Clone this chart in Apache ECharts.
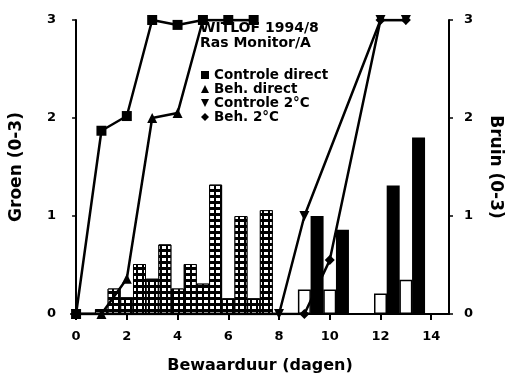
<!DOCTYPE html>
<html>
<head>
<meta charset="utf-8">
<script src="https://cdn.jsdelivr.net/npm/echarts@6/dist/echarts.min.js"></script>
<style>
  html, body { margin: 0; padding: 0; background: #fff; }
  #chart { width: 512px; height: 379px; }
</style>
</head>
<body>
<div id="chart"></div>
<script>
// Groen (lijnen), x = dag, y = score 0-3
const controleDirect = [[0, 0], [1, 1.87], [2, 2.02], [3, 3], [4, 2.95], [5, 3], [6, 3], [7, 3]];
const behDirect = [[0, 0], [1, 0], [2, 0.36], [3, 2.0], [4, 2.05], [5, 3], [6, 3], [7, 3]];
const controle2C = [[0, 0], [8, 0], [9, 1.0], [12, 3], [13, 3]];
const beh2C = [[0, 0], [9, 0], [10, 0.55], [12, 3], [13, 3]];

// Bruin (staven)
const dagenDirectA = [1, 2, 3, 4, 5, 6, 7];
const bruinDirectA = [0.05, 0.17, 0.36, 0.26, 0.31, 0.16, 0.16];
const dagenDirectB = [1.5, 2.5, 3.5, 4.5, 5.5, 6.5, 7.5];
const bruinDirectB = [0.26, 0.51, 0.71, 0.51, 1.32, 1.0, 1.06];
const dagen2CA = [9, 10, 12, 13];
const bruin2CA = [0.25, 0.25, 0.21, 0.35];
const dagen2CB = [9.5, 10.5, 12.5, 13.5];
const bruin2CB = [1.0, 0.86, 1.31, 1.8];

const xTicks = [0, 2, 4, 6, 8, 10, 12, 14];
const legendNames = ['Controle direct', 'Beh. direct', 'Controle 2°C', 'Beh. 2°C'];

const FONT = 'DejaVu Sans';
const downTri = 'path://M0,0 L10,0 L5,10 Z';

const pairs = (xs, ys) => xs.map((x, i) => [x, ys[i]]);

const chart = echarts.init(document.getElementById('chart'));

const lineSeries = (name, data, symbol) => ({
  name,
  type: 'line',
  data,
  symbol,
  symbolSize: 10,
  showAllSymbol: true,
  z: 5,
  lineStyle: { color: '#000', width: 2.5 },
  itemStyle: { color: '#000' },
  animation: false,
});

const barSeries = (data, itemStyle) => ({
  type: 'bar',
  yAxisIndex: 1,
  data,
  barWidth: 13,
  barGap: '-100%',
  z: 2,
  itemStyle,
  animation: false,
});

const hatched = {
  color: '#000',
  borderColor: '#000',
  borderWidth: 1,
  decal: {
    symbol: 'rect',
    symbolSize: 1,
    color: '#fff',
    dashArrayX: [4, 2],
    dashArrayY: [3, 3],
  },
};

const label = { fontFamily: FONT, fontWeight: 'bold', fontSize: 13, color: '#000' };

const option = {
  animation: false,
  title: {
    text: 'WITLOF 1994/8\nRas Monitor/A',
    left: 200,
    top: 21,
    padding: 0,
    textStyle: { fontFamily: FONT, fontWeight: 'bold', fontSize: 14, lineHeight: 15, color: '#000' },
  },
  legend: {
    orient: 'vertical',
    left: 201,
    top: 68,
    padding: 0,
    itemWidth: 8,
    itemHeight: 8,
    itemGap: 0,
    textStyle: { fontFamily: FONT, fontWeight: 'bold', fontSize: 13.5, color: '#000', lineHeight: 14 },
    data: [
      { name: legendNames[0], icon: 'rect' },
      { name: legendNames[1], icon: 'triangle' },
      { name: legendNames[2], icon: downTri },
      { name: legendNames[3], icon: 'diamond' },
    ],
  },
  grid: { left: 70, right: 60, top: 20, bottom: 63 },
  xAxis: {
    type: 'value',
    min: -0.2,
    max: 14.7,
    name: 'Bewaarduur (dagen)',
    nameLocation: 'center',
    nameGap: 44,
    nameTextStyle: { fontFamily: FONT, fontWeight: 'bold', fontSize: 16, color: '#000' },
    splitLine: { show: false },
    axisLine: { lineStyle: { color: '#000', width: 2 } },
    axisTick: { customValues: xTicks, length: 6, lineStyle: { color: '#000', width: 2 } },
    axisLabel: { customValues: xTicks, margin: 16, ...label },
  },
  yAxis: [
    {
      type: 'value',
      min: 0,
      max: 3,
      interval: 1,
      name: 'Groen (0-3)',
      nameLocation: 'center',
      nameGap: 46,
      nameTextStyle: { fontFamily: FONT, fontWeight: 'bold', fontSize: 17, color: '#000' },
      splitLine: { show: false },
      axisLine: { show: true, lineStyle: { color: '#000', width: 2 } },
      axisTick: { show: true, length: 4, lineStyle: { color: '#000', width: 1.5 } },
      axisLabel: { margin: 15, ...label },
    },
    {
      type: 'value',
      position: 'right',
      min: 0,
      max: 3,
      interval: 1,
      name: 'Bruin (0-3)',
      nameLocation: 'center',
      nameGap: 38,
      nameRotate: -90,
      nameTextStyle: { fontFamily: FONT, fontWeight: 'bold', fontSize: 17, color: '#000' },
      splitLine: { show: false },
      axisLine: { show: true, lineStyle: { color: '#000', width: 2 } },
      axisTick: { show: true, length: 4, lineStyle: { color: '#000', width: 1.5 } },
      axisLabel: { margin: 15, ...label },
    },
  ],
  series: [
    barSeries(pairs(dagenDirectA, bruinDirectA), hatched),
    barSeries(pairs(dagenDirectB, bruinDirectB), hatched),
    barSeries(pairs(dagen2CA, bruin2CA), { color: '#fff', borderColor: '#000', borderWidth: 1.5 }),
    barSeries(pairs(dagen2CB, bruin2CB), { color: '#000' }),
    lineSeries(legendNames[0], controleDirect, 'rect'),
    lineSeries(legendNames[1], behDirect, 'triangle'),
    lineSeries(legendNames[2], controle2C, downTri),
    lineSeries(legendNames[3], beh2C, 'diamond'),
  ],
};

chart.setOption(option);
</script>
</body>
</html>
